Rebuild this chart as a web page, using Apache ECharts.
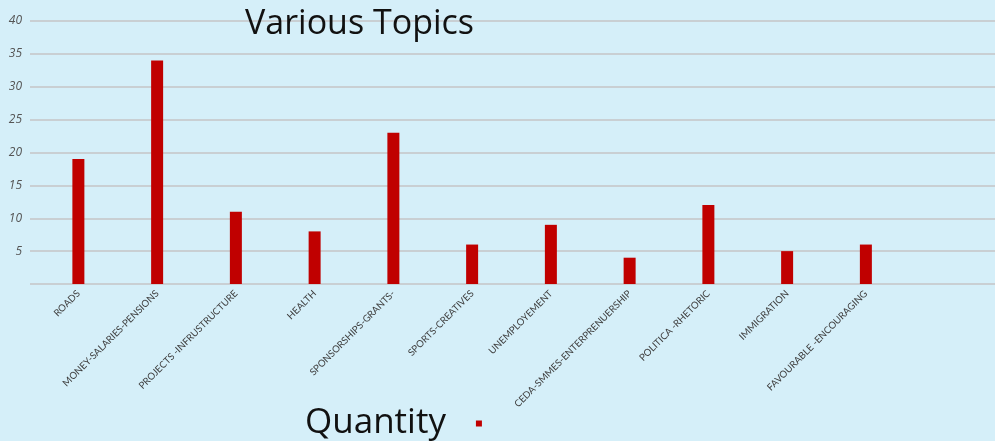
<!DOCTYPE html>
<html>
<head>
<meta charset="utf-8">
<title>Various Topics</title>
<script src="https://cdn.jsdelivr.net/npm/echarts@6/dist/echarts.min.js"></script>
<style>
  html, body { margin: 0; padding: 0; background: #d5eff9; }
  #chart { width: 995px; height: 441px; }
</style>
</head>
<body>
<div id="chart"></div>
<script>
// data
var topics = ['ROADS', 'MONEY-SALARIES-PENSIONS', 'PROJECTS -INFRUSTRUCTURE', 'HEALTH',
  'SPONSORSHIPS-GRANTS-', 'SPORTS-CREATIVES', 'UNEMPLOYEMENT', 'CEDA-SMMES-ENTERPRENUERSHIP',
  'POLITICA -RHETORIC', 'IMMIGRATION', 'FAVOURABLE -ENCOURAGING', ''];
var quantity = [19, 34, 11, 8, 23, 6, 9, 4, 12, 5, 6, null];
var yTicks = [0, 5, 10, 15, 20, 25, 30, 35, 40];

var myChart = echarts.init(document.getElementById('chart'));
var option = {
    backgroundColor: '#d5eff9',
    animation: false,
    title: {
        text: 'Various Topics',
        left: 240,
        top: 2,
        textStyle: { fontFamily: 'Open Sans', fontWeight: 'normal', fontSize: 34, color: '#111' }
    },
    legend: {
        data: ['Quantity'],
        left: 300,
        top: 401,
        align: 'right',
        icon: 'rect',
        itemWidth: 6,
        itemHeight: 6,
        textStyle: { fontFamily: 'Open Sans', fontSize: 35, color: '#111', padding: [0, 25, 0, 0] }
    },
    grid: [
        // grid for the horizontal lines + y labels
        { left: 30, right: 0, top: 21, bottom: 157 },
        // grid for the bars
        { left: 39, right: 11, top: 21, bottom: 157 }
    ],
    xAxis: [
        { gridIndex: 0, type: 'category', data: [''], show: false },
        {
            gridIndex: 1,
            type: 'category',
            data: topics,
            axisLine: { show: false },
            axisTick: { show: false },
            axisLabel: {
                interval: 0,
                rotate: 45,
                margin: 8,
                fontSize: 9.6,
                fontFamily: 'Lato',
                color: '#404040'
            }
        }
    ],
    yAxis: [
        {
            gridIndex: 0,
            type: 'value',
            min: yTicks[0],
            max: yTicks[yTicks.length - 1],
            interval: 5,
            axisLine: { show: false },
            axisTick: { show: false },
            splitLine: { lineStyle: { color: '#c9cfd3', width: 2 } },
            axisLabel: {
                fontSize: 12,
                fontStyle: 'italic',
                fontFamily: 'Open Sans',
                color: '#555',
                margin: 8,
                formatter: function (v) { return v === 0 ? '' : v; }
            }
        },
        {
            gridIndex: 1,
            type: 'value',
            min: yTicks[0],
            max: yTicks[yTicks.length - 1],
            show: false
        }
    ],
    series: [
        {
            name: 'Quantity',
            type: 'bar',
            xAxisIndex: 1,
            yAxisIndex: 1,
            data: quantity,
            barWidth: 12,
            itemStyle: { color: '#c00000' }
        }
    ]
};
myChart.setOption(option);
</script>
</body>
</html>
